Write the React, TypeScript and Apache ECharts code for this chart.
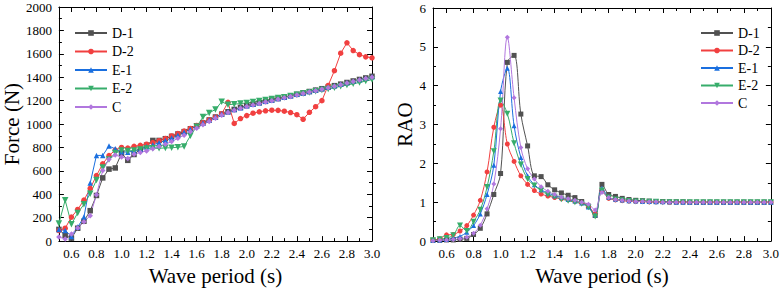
import React, { useEffect, useRef } from "react";
import * as echarts from "echarts";

const periods = [
  0.5, 0.55, 0.6, 0.65, 0.7, 0.75, 0.8, 0.85, 0.9, 0.95,
  1.0, 1.05, 1.1, 1.15, 1.2, 1.25, 1.3, 1.35, 1.4, 1.45,
  1.5, 1.55, 1.6, 1.65, 1.7, 1.75, 1.8, 1.85, 1.9, 1.95,
  2.0, 2.05, 2.1, 2.15, 2.2, 2.25, 2.3, 2.35, 2.4, 2.45,
  2.5, 2.55, 2.6, 2.65, 2.7, 2.75, 2.8, 2.85, 2.9, 2.95, 3.0,
];

const seriesNames = ["D-1", "D-2", "E-1", "E-2", "C"];

// Force (N)
const forceD1 = [
  100, 50, 25, 110, 170, 260, 390, 540, 615, 625,
  750, 690, 740, 785, 820, 860, 860, 875, 895, 915,
  935, 960, 985, 1010, 1035, 1060, 1085, 1105, 1125, 1142,
  1158, 1170, 1182, 1194, 1206, 1218, 1230, 1242, 1254, 1266,
  1278, 1290, 1302, 1315, 1328, 1341, 1355, 1368, 1381, 1394, 1408,
];
const forceD2 = [
  90, 110, 205, 270, 350, 450, 560, 660, 730, 778,
  800, 795, 810, 818, 828, 842, 858, 876, 898, 918,
  940, 962, 988, 1012, 1036, 1060, 1088, 1185, 1005, 1047,
  1072, 1093, 1105, 1113, 1118, 1117, 1110, 1098, 1080, 1041,
  1100, 1148, 1200, 1330, 1456, 1605, 1694, 1628, 1593, 1574, 1566,
];
const forceE1 = [
  100, 90, 40, 120, 205, 497, 732, 732, 812, 788,
  763, 760, 770, 785, 805, 822, 840, 860, 880, 905,
  930, 955, 985, 1010, 1035, 1060, 1085, 1105, 1125, 1140,
  1157, 1170, 1182, 1194, 1206, 1218, 1230, 1242, 1254, 1266,
  1278, 1290, 1302, 1314, 1327, 1340, 1353, 1366, 1379, 1392, 1405,
];
const forceE2 = [
  150, 350, 145, 240, 314, 404, 522, 628, 697, 752,
  773, 770, 775, 782, 792, 793, 793, 796, 797, 802,
  808, 900, 978, 1060, 1095, 1125, 1191, 1165, 1170, 1175,
  1180, 1188, 1196, 1205, 1213, 1222, 1230, 1240, 1250, 1260,
  1270, 1280, 1290, 1300, 1311, 1322, 1333, 1344, 1355, 1367, 1380,
];
const forceC = [
  35, 18, 60, 112, 165, 217, 396, 603, 700, 735,
  718, 705, 742, 758, 770, 788, 808, 828, 850, 878,
  905, 935, 965, 995, 1022, 1050, 1075, 1098, 1118, 1135,
  1150, 1163, 1176, 1188, 1200, 1212, 1224, 1236, 1248, 1260,
  1273, 1285, 1297, 1310, 1323, 1336, 1350, 1363, 1376, 1389, 1400,
];

// RAO
const raoD1 = [
  0.02, 0.02, 0.03, 0.03, 0.05, 0.07, 0.17, 0.33, 0.7, 1.2,
  1.74, 4.6, 4.78, 3.27, 2.45, 1.68, 1.66, 1.45, 1.32, 1.24,
  1.18, 1.12, 1.02, 0.9, 0.66, 1.46, 1.2, 1.15, 1.1, 1.07,
  1.05, 1.04, 1.03, 1.02, 1.02, 1.01, 1.01, 1.01, 1.0, 1.0,
  1.0, 1.0, 1.0, 1.0, 1.0, 1.0, 1.0, 1.0, 1.0, 1.0, 1.0,
];
const raoD2 = [
  0.03, 0.06, 0.16, 0.17, 0.26, 0.4, 0.67, 1.05, 1.78, 2.93,
  3.5, 2.5, 2.05, 1.68, 1.46, 1.3, 1.21, 1.16, 1.12, 1.09,
  1.06, 1.02, 0.98, 0.9, 0.7, 1.3, 1.1, 1.06, 1.04, 1.03,
  1.02, 1.02, 1.01, 1.01, 1.01, 1.0, 1.0, 1.0, 1.0, 1.0,
  1.0, 1.0, 1.0, 1.0, 1.0, 1.0, 1.0, 1.0, 1.0, 1.0, 1.0,
];
const raoE1 = [
  0.02, 0.03, 0.04, 0.08, 0.12, 0.23, 0.4, 0.7, 1.2, 1.95,
  3.85, 4.45, 2.97, 2.15, 1.68, 1.45, 1.32, 1.24, 1.17, 1.12,
  1.07, 1.03, 0.98, 0.88, 0.68, 1.36, 1.13, 1.08, 1.06, 1.04,
  1.03, 1.02, 1.02, 1.01, 1.01, 1.01, 1.0, 1.0, 1.0, 1.0,
  1.0, 1.0, 1.0, 1.0, 1.0, 1.0, 1.0, 1.0, 1.0, 1.0, 1.0,
];
const raoE2 = [
  0.02, 0.05, 0.08, 0.15, 0.4, 0.26, 0.5, 0.81, 1.39, 2.31,
  3.62, 3.28, 2.52, 1.97, 1.6, 1.43, 1.3, 1.2, 1.14, 1.08,
  1.04, 1.0, 0.96, 0.87, 0.63, 1.3, 1.12, 1.07, 1.05, 1.03,
  1.02, 1.02, 1.01, 1.01, 1.0, 1.0, 1.0, 1.0, 1.0, 1.0,
  1.0, 1.0, 1.0, 1.0, 1.0, 1.0, 1.0, 1.0, 1.0, 1.0, 1.0,
];
const raoC = [
  0.01, 0.02, 0.03, 0.04, 0.06, 0.1, 0.2, 0.41, 0.83, 1.47,
  2.89, 5.25, 3.69, 2.41, 1.86, 1.6, 1.4, 1.28, 1.2, 1.13,
  1.09, 1.05, 1.0, 0.95, 0.8, 1.25, 1.12, 1.07, 1.05, 1.03,
  1.02, 1.02, 1.01, 1.01, 1.0, 1.0, 1.0, 1.0, 1.0, 1.0,
  1.0, 1.0, 1.0, 1.0, 1.0, 1.0, 1.0, 1.0, 1.0, 1.0, 1.0,
];

const xMajorTicks = [0.6, 0.8, 1.0, 1.2, 1.4, 1.6, 1.8, 2.0, 2.2, 2.4, 2.6, 2.8, 3.0];
const xMinorTicks = [0.5, 0.7, 0.9, 1.1, 1.3, 1.5, 1.7, 1.9, 2.1, 2.3, 2.5, 2.7, 2.9];

const colors = ["#515151", "#F14040", "#1A6FDF", "#37AD6B", "#B177DE"];
const symbols = ["rect", "circle", "triangle", "path://M0,0L10,0L5,9Z", "diamond"];

const FONT = "Liberation Serif";

function makeXAxes(gridIndex: number, withName: boolean) {
  const base = { type: "value", gridIndex, min: 0.5, max: 3.0, splitLine: { show: false } };
  const line = { show: true, lineStyle: { color: "#000", width: 1 } };
  return [
    {
      ...base,
      position: "bottom",
      axisLine: line,
      axisTick: { show: true, inside: true, length: 5, customValues: xMajorTicks, lineStyle: { color: "#000" } },
      axisLabel: {
        show: true,
        customValues: xMajorTicks,
        formatter: (v: number) => v.toFixed(1),
        color: "#000",
        fontFamily: FONT,
        fontSize: 13,
        margin: 6,
      },
      name: withName ? "Wave period (s)" : "",
      nameLocation: "middle",
      nameGap: 16,
      nameTextStyle: { color: "#000", fontFamily: FONT, fontSize: 21 },
    },
    {
      ...base,
      position: "bottom",
      axisLine: { show: false },
      axisTick: { show: true, inside: true, length: 3, customValues: xMinorTicks, lineStyle: { color: "#000" } },
      axisLabel: { show: false },
    },
    {
      ...base,
      position: "top",
      axisLine: line,
      axisTick: { show: true, inside: true, length: 5, customValues: xMajorTicks, lineStyle: { color: "#000" } },
      axisLabel: { show: false },
    },
    {
      ...base,
      position: "top",
      axisLine: { show: false },
      axisTick: { show: true, inside: true, length: 3, customValues: xMinorTicks, lineStyle: { color: "#000" } },
      axisLabel: { show: false },
    },
  ];
}

function makeYAxes(gridIndex: number, max: number, interval: number, name: string, nameGap: number, fontSize: number) {
  const base = {
    type: "value",
    gridIndex,
    min: 0,
    max,
    interval,
    splitLine: { show: false },
    axisLine: { show: true, lineStyle: { color: "#000", width: 1 } },
    axisTick: { show: true, inside: true, length: 5, lineStyle: { color: "#000" } },
    minorTick: { show: true, splitNumber: 2, length: 3, lineStyle: { color: "#000" } },
  };
  return [
    {
      ...base,
      position: "left",
      axisLabel: {
        show: true,
        color: "#000",
        fontFamily: FONT,
        fontSize,
        margin: 7,
        formatter: (v: number) => String(v),
      },
      name,
      nameLocation: "middle",
      nameGap,
      nameTextStyle: { color: "#000", fontFamily: FONT, fontSize: 21 },
    },
    {
      ...base,
      position: "right",
      axisLabel: { show: false },
    },
  ];
}

function buildSeries(arrays: number[][], xAxisIndex: number, yAxisIndex: number, smooth: boolean, size: number) {
  return arrays.map((arr, k) => ({
    type: "line",
    name: seriesNames[k],
    xAxisIndex,
    yAxisIndex,
    data: periods.map((p, i) => [p, arr[i]]),
    smooth: smooth ? 0.35 : false,
    symbol: symbols[k],
    symbolSize: k === 3 ? size + 1 : size,
    showAllSymbol: true,
    color: colors[k],
    lineStyle: { width: 1, color: colors[k] },
    itemStyle: { color: colors[k] },
  }));
}

export default function App() {
  const ref = useRef<HTMLDivElement>(null);

  useEffect(() => {
    if (!ref.current) return;
    const chart = echarts.init(ref.current, null, { renderer: "svg" });
    const legendBase = {
      orient: "vertical",
      itemWidth: 32,
      itemHeight: 7,
      data: seriesNames,
      textStyle: { color: "#000", fontFamily: FONT, fontSize: 14 },
      selectedMode: false,
    };
    chart.setOption({
      animation: false,
      backgroundColor: "#fff",
      textStyle: { fontFamily: FONT },
      grid: [
        { left: 55, top: 7, width: 317, height: 244, containLabel: false },
        { left: 433, top: 8, width: 339, height: 242, containLabel: false },
      ],
      legend: [
        { ...legendBase, left: 69, top: 21, itemGap: 4.5 },
        { ...legendBase, left: 695, top: 21, itemGap: 3.5 },
      ],
      xAxis: [...makeXAxes(0, true), ...makeXAxes(1, true)],
      yAxis: [
        ...makeYAxes(0, 2000, 200, "Force (N)", 30, 13),
        ...makeYAxes(1, 6, 1, "RAO", 13, 13),
      ],
      series: [
        ...buildSeries([forceD1, forceD2, forceE1, forceE2, forceC], 0, 0, false, 5.5),
        ...buildSeries([raoD1, raoD2, raoE1, raoE2, raoC], 4, 2, true, 5),
      ],
    });
    return () => chart.dispose();
  }, []);

  return (
    <div
      ref={ref}
      style={{ position: "fixed", left: 0, top: 0, width: 782, height: 291, background: "#fff" }}
    />
  );
}
